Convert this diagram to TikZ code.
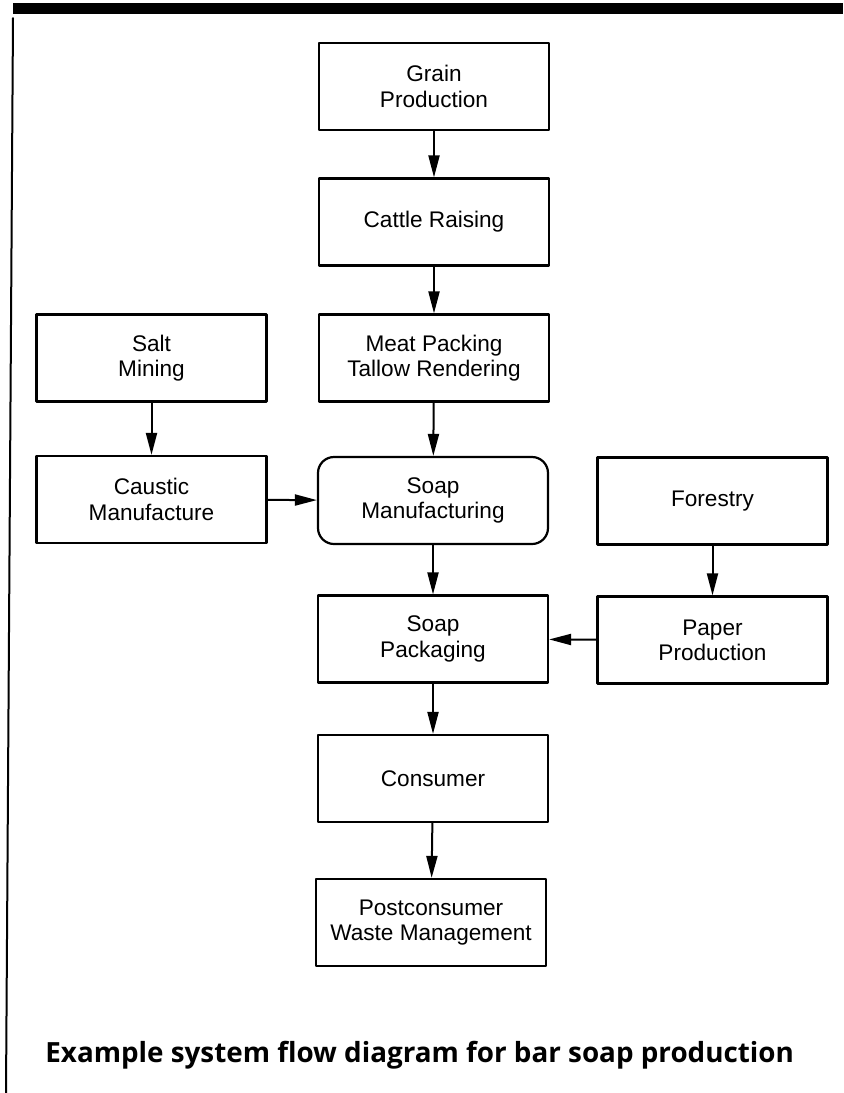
\documentclass[tikz,border=0pt]{standalone}
\usepackage{fontspec}
\setmainfont{Liberation Sans}
\newfontfamily\capfont{Open Sans}
\usetikzlibrary{arrows.meta}
\tikzset{
	stage/.style={draw, line width=1.1pt, minimum width=115pt, minimum height=43.5pt, align=center, inner sep=2pt},
	flow/.style={-{Triangle[length=11pt,width=5.5pt]}, line width=1pt}
}
\begin{document}
\begin{tikzpicture}[x=0.5pt,y=-0.5pt, font=\fontsize{11.3}{12.6}\selectfont, line join=round, line cap=round]
	\def\xl{151.5} \def\xm{433} \def\xr{712.5} % cột
	\useasboundingbox (0,0) rectangle (843,1093);
	\fill (13,3) rectangle (843,14);
	\draw[line width=1pt] (13,18)--(6,1093);
	\node[stage] (grain) at (\xm+1,86.5) {Grain\\Production};
	\node[stage] (cattle) at (\xm+1,222) {Cattle Raising};
	\node[stage] (meat) at (\xm+1,358) {Meat Packing\\Tallow Rendering};
	\node[stage, rounded corners=8pt] (soapmfg) at (\xm,500.5) {Soap\\Manufacturing};
	\node[stage] (pack) at (\xm,639) {Soap\\Packaging};
	\node[stage] (consumer) at (\xm,778.5) {Consumer};
	\node[stage] (waste) at (\xm-2,922.5) {Postconsumer\\Waste Management};
	\node[stage] (salt) at (\xl,358) {Salt\\Mining};
	\node[stage] (caustic) at (\xl,499.5) {Caustic\\Manufacture};
	\node[stage] (forest) at (\xr,501) {Forestry};
	\node[stage] (paper) at (\xr,640) {Paper\\Production};
	\draw[flow] (grain)--(cattle);
	\draw[flow] (cattle)--(meat);
	\draw[flow] (meat)--(soapmfg);
	\draw[flow] (soapmfg)--(pack);
	\draw[flow] (pack)--(consumer);
	\draw[flow] (consumer)--(waste);
	\draw[flow] (salt)--(caustic);
	\draw[flow] (caustic)--(soapmfg);
	\draw[flow] (forest)--(paper);
	\draw[flow] (paper)--(pack);
	\node[anchor=base west, inner sep=0pt, font=\capfont\bfseries\fontsize{13.9}{15.5}\selectfont] (caption) at (45,1062) {Example system flow diagram for bar soap production};
\end{tikzpicture}
\end{document}
